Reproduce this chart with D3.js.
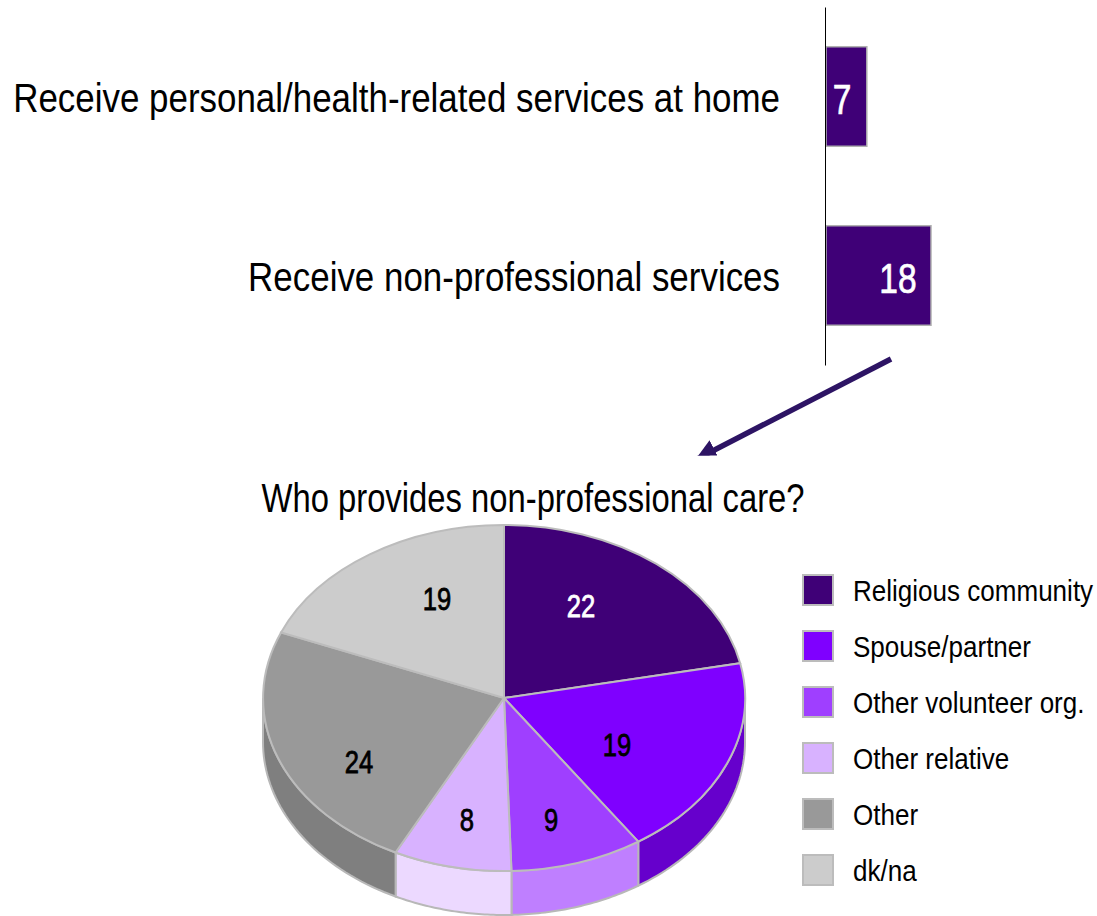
<!DOCTYPE html>
<html>
<head>
<meta charset="utf-8">
<script src="https://cdn.jsdelivr.net/npm/d3@7"></script>
<style>
  html, body { margin: 0; padding: 0; background: #fff; }
  text { font-family: "Liberation Sans", sans-serif; }
</style>
</head>
<body>
<div class="chart"></div>
<script>
// Bar chart data
var barCategories = ["Receive personal/health-related services at home", "Receive non-professional services"];
var barValues = [7, 18];

// Pie chart data
var pieCategories = ["Religious community", "Spouse/partner", "Other volunteer org.", "Other relative", "Other", "dk/na"];
var pieValues = [22, 19, 9, 8, 24, 19];
var pieColors = ["#3f0077", "#7f00ff", "#9f3fff", "#d8b2ff", "#999999", "#cccccc"];
var sideColors = ["#2f0059", "#6600cc", "#bf7fff", "#ecd9ff", "#7f7f7f", "#a3a3a3"];
var pieTitle = "Who provides non-professional care?";

var svg = d3.select(".chart")
  .append("svg")
  .attr("width", 1097)
  .attr("height", 916)
  .style("display", "block");

// No narrow font installed, so squeeze the glyphs to the condensed look of the original
function narrow(selection, factor) {
  selection
    .attr("x", function () { return +this.getAttribute("x") / factor; })
    .attr("transform", "scale(" + factor + ",1)");
}

// Bars
var xScale = d3.scaleLinear().domain([0, 18]).range([826, 931]);
var yScale = d3.scaleBand().domain(barCategories).range([7, 365]).paddingInner(0.444).paddingOuter(0.222);

svg.selectAll(".bar")
  .data(barValues)
  .enter()
  .append("rect")
  .attr("class", "bar")
  .attr("x", xScale(0))
  .attr("y", function (d, i) { return yScale(barCategories[i]); })
  .attr("width", function (d) { return xScale(d) - xScale(0); })
  .attr("height", yScale.bandwidth())
  .attr("fill", pieColors[0])
  .attr("stroke", "#b0b0b0")
  .attr("stroke-width", 1.5);

var yAxis = d3.axisLeft(yScale).tickSize(0).tickPadding(45);
var axisG = svg.append("g")
  .attr("transform", "translate(825,0)")
  .call(yAxis);
axisG.select(".domain").attr("stroke", "#000").attr("stroke-width", 1);
axisG.selectAll("text")
  .attr("fill", "#000")
  .style("font-family", '"Liberation Sans", sans-serif')
  .style("font-size", "41px")
  .attr("dy", "0.37em")
  .call(narrow, 0.852);

// bar values sit at different spots in the original
var barLabelX = [842, 898];
svg.selectAll(".barLabel")
  .data(barValues)
  .enter()
  .append("text")
  .attr("class", "barLabel")
  .attr("x", function (d, i) { return barLabelX[i]; })
  .attr("y", function (d, i) { return yScale(barCategories[i]) + yScale.bandwidth() / 2 + 18; })
  .attr("text-anchor", "middle")
  .attr("fill", "#fff")
  .attr("stroke", "#fff")
  .attr("stroke-width", 0.7)
  .style("font-size", "43px")
  .text(function (d) { return d; })
  .call(narrow, 0.78);

// Arrow, the head is cut flat at the bottom in the original
var defs = svg.append("defs");
defs.append("marker")
  .attr("id", "arrowHead")
  .attr("viewBox", "0 0 10 10")
  .attr("refX", 9)
  .attr("refY", 5)
  .attr("markerUnits", "userSpaceOnUse")
  .attr("markerWidth", 22)
  .attr("markerHeight", 22)
  .attr("orient", "auto")
  .append("path")
  .attr("d", "M0,0L10,5L0,10Z")
  .attr("fill", "#2d1464");

defs.append("clipPath")
  .attr("id", "arrowClip")
  .append("rect")
  .attr("x", 660).attr("y", 340)
  .attr("width", 260).attr("height", 115.5);

svg.append("g")
  .attr("clip-path", "url(#arrowClip)")
  .append("line")
  .attr("x1", 891).attr("y1", 359)
  .attr("x2", 697).attr("y2", 459)
  .attr("stroke", "#2d1464")
  .attr("stroke-width", 5.5)
  .attr("marker-end", "url(#arrowHead)");

// Title
svg.append("text")
  .attr("x", 533)
  .attr("y", 512)
  .attr("text-anchor", "middle")
  .attr("fill", "#000")
  .style("font-size", "40px")
  .text(pieTitle)
  .call(narrow, 0.82);

// Pie, drawn as a flattened disc with a front wall
var cx = 504, cy = 698, rx = 241, ry = 173, depth = 44;
var pie = d3.pie().sort(null).value(function (d) { return d; });
var arcs = pie(pieValues);
var xR = d3.scaleLinear().domain([0, 1]).range([0, rx]);
var yR = d3.scaleLinear().domain([0, 1]).range([0, ry]);

// angle is clockwise from the top, same as d3.pie
function rimX(a) { return cx + xR(Math.sin(a)); }
function rimY(a) { return cy - yR(Math.cos(a)); }

function wallPath(d) {
  var a0 = Math.max(d.startAngle, Math.PI / 2);
  var a1 = Math.min(d.endAngle, Math.PI * 1.5);
  if (a1 <= a0) return null;
  var angles = d3.range(0, 41).map(function (i) { return a0 + (a1 - a0) * i / 40; });
  var pts = angles.map(function (a) { return [rimX(a), rimY(a)]; });
  var lower = angles.slice().reverse().map(function (a) { return [rimX(a), rimY(a) + depth]; });
  return d3.line()(pts.concat(lower)) + "Z";
}

svg.selectAll(".wall")
  .data(arcs)
  .enter()
  .append("path")
  .attr("class", "wall")
  .attr("d", wallPath)
  .attr("fill", function (d, i) { return sideColors[i]; })
  .attr("stroke", "#b8b8b8")
  .attr("stroke-width", 2);

var arc = d3.arc().innerRadius(0).outerRadius(1);
svg.append("g")
  .attr("transform", "translate(" + cx + "," + cy + ") scale(" + rx + "," + ry + ")")
  .selectAll(".slice")
  .data(arcs)
  .enter()
  .append("path")
  .attr("class", "slice")
  .attr("d", arc)
  .attr("fill", function (d, i) { return pieColors[i]; })
  .attr("stroke", "#bcbcbc")
  .attr("stroke-width", 2)
  .attr("vector-effect", "non-scaling-stroke");

// Slice labels, placed by hand in the original so offset from centre
var labelDx = [77, 113, 47, -37, -145, -67];
var labelDy = [-92, 47, 122, 122, 64, -99];
var labelColors = ["#fff", "#000", "#000", "#000", "#000", "#000"];
svg.selectAll(".pieLabel")
  .data(pieValues)
  .enter()
  .append("text")
  .attr("class", "pieLabel")
  .attr("x", function (d, i) { return cx + labelDx[i]; })
  .attr("y", function (d, i) { return cy + labelDy[i] + 11; })
  .attr("text-anchor", "middle")
  .attr("fill", function (d, i) { return labelColors[i]; })
  .attr("stroke", function (d, i) { return labelColors[i]; })
  .attr("stroke-width", 0.8)
  .style("font-size", "32px")
  .text(function (d) { return d; })
  .call(narrow, 0.8);

// Legend
var legendScale = d3.scalePoint().domain(pieCategories).range([590, 870]);
var legend = svg.selectAll(".legendRow")
  .data(pieCategories)
  .enter()
  .append("g")
  .attr("class", "legendRow")
  .attr("transform", function (d) { return "translate(0," + legendScale(d) + ")"; });

legend.append("rect")
  .attr("x", 803)
  .attr("y", -15)
  .attr("width", 30)
  .attr("height", 30)
  .attr("fill", function (d, i) { return pieColors[i]; })
  .attr("stroke", "#bcbcbc")
  .attr("stroke-width", 2);

legend.append("text")
  .attr("x", 853)
  .attr("y", 11)
  .attr("fill", "#000")
  .style("font-size", "30px")
  .text(function (d) { return d; })
  .call(narrow, 0.868);
</script>
</body>
</html>
